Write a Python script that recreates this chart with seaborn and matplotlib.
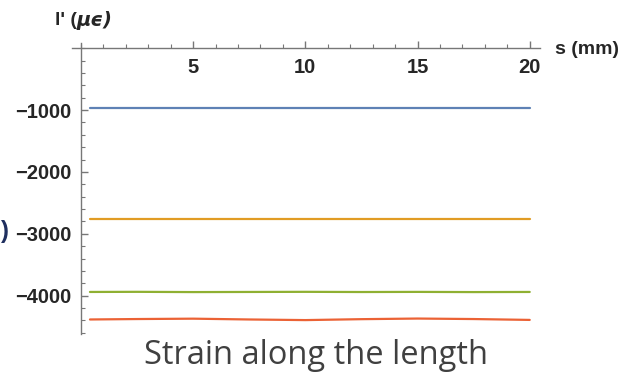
"""
Strain along the length: l'(s) for four load cases, Mathematica-like axes.
"""
import matplotlib.pyplot as plt
import matplotlib.ticker as ticker
import pandas as pd
import seaborn as sns

# position along the length (mm)
s_mm = [0.4, 2.5, 5, 7.5, 10, 12.5, 15, 17.5, 20]

# strain (micro-strain)
strain_blue = [-973, -973, -973, -973, -973, -973, -973, -973, -973]
strain_orange = [-2761, -2761, -2761, -2761, -2761, -2761, -2761, -2761, -2761]
strain_green = [-3940, -3938, -3942, -3940, -3938, -3941, -3939, -3942, -3940]
strain_red = [-4385, -4378, -4372, -4385, -4395, -4380, -4370, -4378, -4392]

series_names = ["case 1", "case 2", "case 3", "case 4"]
series_colors = ["#5E81B5", "#E19C24", "#8FB032", "#EB6235"]

x_ticks = [5, 10, 15, 20]
y_ticks = [-1000, -2000, -3000, -4000]

df = pd.concat([
    pd.DataFrame({"s": s_mm, "strain": vals, "case": name})
    for name, vals in zip(
        series_names, [strain_blue, strain_orange, strain_green, strain_red]
    )
])

sns.set_theme(style="white")
plt.rcParams['font.family'] = ['Liberation Sans', 'DejaVu Sans']

fig = plt.figure(figsize=(6.18, 3.75), dpi=100)
ax = fig.add_axes([0.1165, 0.1093, 0.757, 0.776])

sns.lineplot(
    data=df, x="s", y="strain", hue="case", palette=series_colors,
    linewidth=1.6, legend=False, ax=ax
)

ax.set_xlim(-0.4, 20.45)
ax.set_ylim(-4620, 85)
ax.set_xlabel("")
ax.set_ylabel("")

axis_color = "#777777"
for side in ["top", "right"]:
    ax.spines[side].set_visible(False)
ax.spines["left"].set_position(("data", 0))
ax.spines["bottom"].set_position(("data", 0))
for side in ["left", "bottom"]:
    ax.spines[side].set_color(axis_color)
    ax.spines[side].set_linewidth(1.0)

ax.set_xticks(x_ticks)
ax.set_yticks(y_ticks)
ax.xaxis.set_minor_locator(ticker.MultipleLocator(1))
ax.yaxis.set_minor_locator(ticker.MultipleLocator(200))
ax.tick_params(axis="x", which="both", bottom=True)
ax.tick_params(axis="y", which="both", left=True)
ax.tick_params(
    which="major", direction="in", length=5, width=1.0, color=axis_color,
    labelsize=14.5, pad=7
)
ax.tick_params(
    which="minor", direction="in", length=3, width=0.8, color=axis_color
)
for lbl in ax.get_xticklabels() + ax.get_yticklabels():
    lbl.set_fontweight("bold")

# axis labels placed like Mathematica's AxesLabel
fig.text(0.089, 0.945, "l' (", fontsize=14, fontweight="bold",
         ha="left", va="center")
fig.text(0.124, 0.945, "\u03bc\u03f5)", fontsize=14, fontweight="bold",
         style="italic", ha="left", va="center", family=["DejaVu Sans"])
fig.text(0.898, 0.868, "s (mm)", fontsize=14, fontweight="bold",
         ha="left", va="center")
# fragment of a label at the left edge
fig.text(0.002, 0.382, ")", fontsize=17, fontweight="bold",
         color="#1f2f5f", ha="left", va="center")

fig.text(0.512, 0.053, "Strain along the length", fontsize=23.5,
         color="#404040", family=["Open Sans", "DejaVu Sans"],
         ha="center", va="center")

fig.savefig("out.png", dpi=100, facecolor="white")
